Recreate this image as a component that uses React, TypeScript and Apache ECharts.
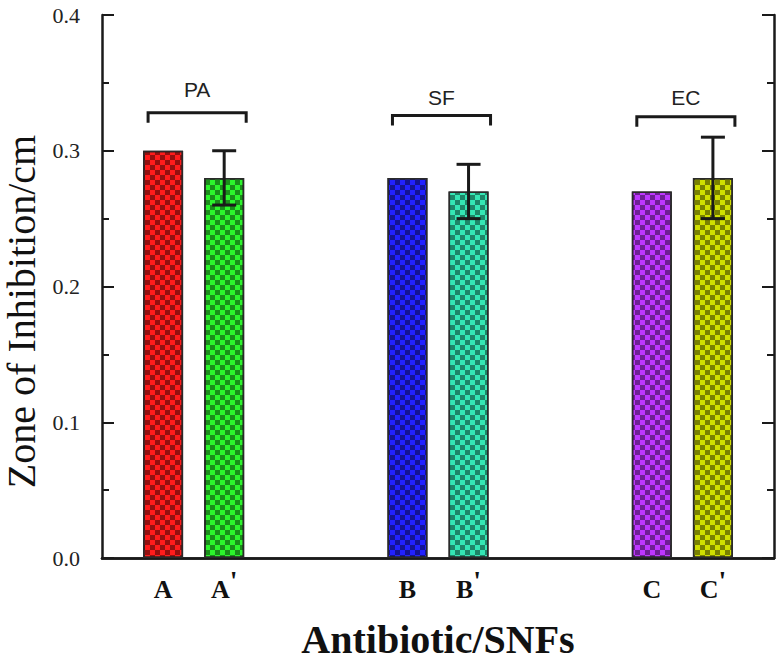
import React, { useEffect, useRef } from "react";
import * as echarts from "echarts";

// ---- data ----
const categories = ["", "A", "A'", "", "", "B", "B'", "", "", "C", "C'", ""];
const values: (number | null)[] = [null, 0.3, 0.28, null, null, 0.28, 0.27, null, null, 0.27, 0.28, null];
const errors: number[] = [0, 0, 0.02, 0, 0, 0, 0.02, 0, 0, 0, 0.03, 0];
const barColors = ["", "#ff1c1c", "#2cf52c", "", "", "#2222ff", "#34e6b4", "", "", "#bd36ff", "#d0df00", ""];
const groupNames = ["PA", "SF", "EC"];
const groupFirst = [1, 5, 9];
const groupLast = [2, 6, 10];
const bracketLevel = [0.328, 0.326, 0.325];
const groupLabelLevel = [0.345, 0.339, 0.339];
const yMin = 0;
const yMax = 0.4;
const yStep = 0.1;

const INK = "#1a1a1a";
const SERIF = "'Liberation Serif', 'Times New Roman', serif";
const SANS = "'Liberation Sans', Arial, sans-serif";

export default function App() {
  const ref = useRef<HTMLDivElement>(null);
  useEffect(() => {
    if (!ref.current) return;
    const chart = echarts.init(ref.current, undefined, { renderer: "svg" });

    const barData = values.map((v, i) =>
      v == null
        ? "-"
        : {
            value: v,
            itemStyle: {
              color: barColors[i],
              borderColor: "#2a2a2a",
              borderWidth: 1.5,
              decal: {
                symbol: "rect",
                symbolSize: 1,
                dashArrayX: [
                  [5, 5],
                  [0, 5, 5, 0],
                ],
                dashArrayY: [5, 0],
                color: "rgba(0,0,0,0.42)",
              },
            },
          }
    );

    const errData: number[][] = [];
    values.forEach((v, i) => {
      if (v != null && errors[i] > 0) errData.push([i, v - errors[i], v + errors[i]]);
    });

    const bracketData = groupNames.map((n, k) => [groupFirst[k], groupLast[k], bracketLevel[k], groupLabelLevel[k], k]);

    const option: any = {
      animation: false,
      grid: { left: 102, right: 8, top: 15, bottom: 102, outerBoundsMode: "none", containLabel: false },
      xAxis: [
        {
          type: "category",
          data: categories,
          boundaryGap: false,
          axisLine: { lineStyle: { color: INK, width: 2.5 } },
          axisTick: { show: false },
          axisLabel: {
            interval: 0,
            margin: 9,
            formatter: (s: string) => {
              if (!s) return "";
              if (s.endsWith("'")) return `{b|${s.slice(0, -1)}}{p|'}`;
              return `{b|${s}}`;
            },
            rich: {
              b: { fontFamily: SERIF, fontWeight: "bold", fontSize: 26, lineHeight: 44, color: "#111" },
              p: { fontFamily: SERIF, fontWeight: "bold", fontSize: 28, lineHeight: 26, color: "#111", padding: [0, 0, 18, 0] },
            },
          },
          name: "Antibiotic/SNFs",
          nameLocation: "middle",
          nameGap: 61,
          nameTextStyle: { fontFamily: SERIF, fontWeight: "bold", fontSize: 40, color: "#111" },
        },
        {
          type: "category",
          data: categories,
          boundaryGap: false,
          position: "top",
          axisLine: { lineStyle: { color: INK, width: 2.5 } },
          axisTick: { show: false },
          axisLabel: { show: false },
        },
      ],
      yAxis: [
        {
          type: "value",
          min: yMin,
          max: yMax,
          interval: yStep,
          axisLine: { show: true, lineStyle: { color: INK, width: 2.5 } },
          axisTick: { show: true, inside: true, length: 12, lineStyle: { color: INK, width: 2 } },
          minorTick: { show: true, splitNumber: 2, length: 7, lineStyle: { color: INK, width: 2 } },
          splitLine: { show: false },
          axisLabel: {
            margin: 22,
            formatter: (v: number) => v.toFixed(1),
            fontFamily: SERIF,
            fontSize: 22,
            color: "#222",
          },
          name: "Zone of Inhibition/cm",
          nameLocation: "middle",
          nameGap: 60,
          nameTextStyle: { fontFamily: SERIF, fontSize: 40, color: "#111", padding: [0, 50, 0, 0] },
        },
        {
          type: "value",
          position: "right",
          min: yMin,
          max: yMax,
          interval: yStep,
          axisLine: { show: true, lineStyle: { color: INK, width: 2.5 } },
          axisTick: { show: true, inside: true, length: 12, lineStyle: { color: INK, width: 2 } },
          minorTick: { show: true, splitNumber: 2, length: 7, lineStyle: { color: INK, width: 2 } },
          splitLine: { show: false },
          axisLabel: { show: false },
        },
      ],
      series: [
        {
          type: "bar",
          data: barData,
          barWidth: 40,
          xAxisIndex: 0,
          yAxisIndex: 0,
        },
        {
          type: "custom",
          xAxisIndex: 0,
          yAxisIndex: 0,
          data: errData,
          encode: { x: 0, y: [1, 2] },
          z: 5,
          renderItem: (params: any, api: any) => {
            const x = api.value(0);
            const lo = api.coord([x, api.value(1)]);
            const hi = api.coord([x, api.value(2)]);
            const hw = 12;
            const st = { stroke: INK, lineWidth: 3 };
            return {
              type: "group",
              children: [
                { type: "line", shape: { x1: lo[0], y1: lo[1], x2: hi[0], y2: hi[1] }, style: st },
                { type: "line", shape: { x1: hi[0] - hw, y1: hi[1], x2: hi[0] + hw, y2: hi[1] }, style: st },
                { type: "line", shape: { x1: lo[0] - hw, y1: lo[1], x2: lo[0] + hw, y2: lo[1] }, style: st },
              ],
            };
          },
        },
        {
          type: "custom",
          xAxisIndex: 0,
          yAxisIndex: 0,
          data: bracketData,
          encode: { x: [0, 1], y: [2, 3] },
          z: 5,
          renderItem: (params: any, api: any) => {
            const a = api.coord([api.value(0), api.value(2)]);
            const b = api.coord([api.value(1), api.value(2)]);
            const t = api.coord([(api.value(0) + api.value(1)) / 2, api.value(3)]);
            const k = api.value(4);
            const left = a[0] - 15;
            const right = b[0] + 22;
            const drop = 10;
            return {
              type: "group",
              children: [
                {
                  type: "polyline",
                  shape: {
                    points: [
                      [left, a[1] + drop],
                      [left, a[1]],
                      [right, a[1]],
                      [right, a[1] + drop],
                    ],
                  },
                  style: { stroke: INK, lineWidth: 3, fill: "none" },
                },
                {
                  type: "text",
                  x: (left + right) / 2,
                  y: t[1],
                  style: {
                    text: groupNames[k],
                    fontFamily: SANS,
                    fontSize: 21,
                    fill: "#222",
                    align: "center",
                    verticalAlign: "middle",
                  },
                },
              ],
            };
          },
        },
      ],
    };
    chart.setOption(option);
    return () => chart.dispose();
  }, []);
  return <div ref={ref} style={{ width: 782, height: 660, position: "absolute", left: 0, top: 0 }} />;
}
